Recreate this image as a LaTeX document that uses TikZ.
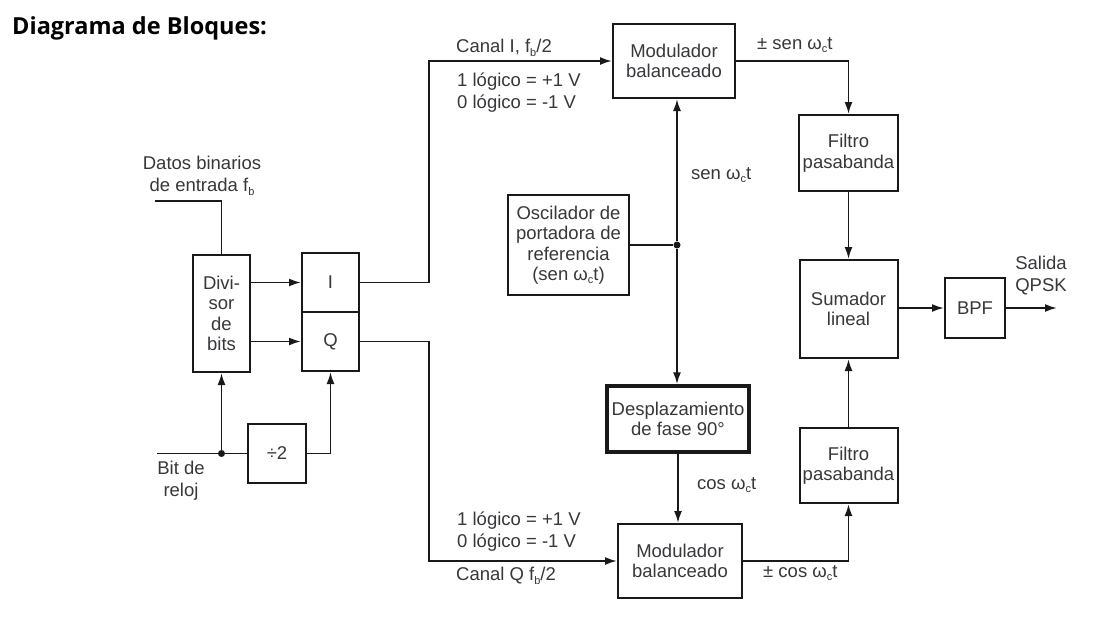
\documentclass[tikz,border=0pt]{standalone}
\usepackage{fontspec}
\setmainfont{Liberation Sans}
\newfontfamily\titlefont{Open Sans}
\usetikzlibrary{arrows.meta}

% small lowered index, e.g. omega_c, f_b
\newcommand{\dn}[1]{\raisebox{-0.35ex}{\fontsize{11}{11}\selectfont #1}}

\definecolor{ink}{RGB}{25,25,25}
\definecolor{txt}{RGB}{55,55,60}

\tikzset{
  blk/.style={draw=ink, line width=2pt, rectangle, align=center, text=txt,
              inner sep=0pt, font=\fontsize{18.5}{20.5}\selectfont},
  lbl/.style={text=txt, inner sep=0pt, font=\fontsize{18.5}{22}\selectfont},
  wire/.style={draw=ink, line width=1.9pt},
  arr/.style={wire, -{Latex[length=12pt,width=8pt]}},
  jdot/.style={fill=ink, circle, inner sep=0pt, minimum size=7pt}
}

\begin{document}
\begin{tikzpicture}[x=1pt,y=-1pt]
\useasboundingbox[fill=white] (0,0) rectangle (1101,622);

% title
\node[anchor=west, inner sep=0pt, text=black, font=\titlefont\bfseries\fontsize{23.5}{26}\selectfont]
  (title) at (12,28) {Diagrama de Bloques:};

% blocks
\node[blk, minimum width=57pt, minimum height=117pt] (div) at (221.5,313.5) {Divi-\\sor\\de\\bits};
\node[blk, minimum width=57pt, minimum height=59pt] (I) at (330.5,282.5) {I};
\node[blk, minimum width=57pt, minimum height=59pt] (Q) at (330.5,341.5) {Q};
\node[blk, minimum width=58pt, minimum height=59pt] (half) at (277,453.5) {÷2};
\node[blk, minimum width=122pt, minimum height=74pt] (modI) at (674,61) {Modulador\\balanceado};
\node[blk, minimum width=121pt, minimum height=100pt] (osc) at (568.5,245)
  {Oscilador de\\portadora de\\referencia\\(sen ω\dn{c}t)};
\node[blk, line width=3.4pt, minimum width=142pt, minimum height=66pt] (phase) at (678,419)
  {Desplazamiento\\de fase 90°};
\node[blk, minimum width=124pt, minimum height=74pt] (modQ) at (680,561) {Modulador\\balanceado};
\node[blk, minimum width=99pt, minimum height=76pt] (filtA) at (848.5,153) {Filtro\\pasabanda};
\node[blk, minimum width=98pt, minimum height=98pt] (sum) at (848.5,309) {Sumador\\lineal};
\node[blk, minimum width=98pt, minimum height=75pt] (filtB) at (848.5,465.5) {Filtro\\pasabanda};
\node[blk, minimum width=60pt, minimum height=60pt] (bpf) at (975,308) {BPF};

% free ends and junctions
\coordinate (din) at (155,201);
\coordinate (clk) at (157,453.5);
\coordinate (out) at (1057,308);
\node[jdot] (cj) at (div.south |- half.west) {};
\node[jdot] (oj) at (677,245) {};

% data input and bit split
\draw[wire] (din) -| (div.north);
\draw[arr] (div.east |- I) -- (I.west);
\draw[arr] (div.east |- Q) -- (Q.west);

% clock
\draw[wire] (clk) -- (half.west);
\draw[arr] (cj) -- (div.south);
\draw[arr] (half.east) -| (Q.south);

% I and Q channels
\draw[arr] (I.east) -- ++(69,0) |- (modI.west);
\draw[arr] (Q.east) -- ++(69,0) |- (modQ.west);

% carrier
\draw[wire] (osc.east |- oj) -- (oj);
\draw[arr] (oj) -- (oj |- modI.south);
\draw[arr] (oj) -- (oj |- phase.north);
\draw[arr] (phase.south) -- (phase.south |- modQ.north);

% outputs to the summer
\draw[arr] (modI.east) -| (filtA.north);
\draw[arr] (filtA.south) -- (sum.north);
\draw[arr] (modQ.east) -| (filtB.south);
\draw[arr] (filtB.north) -- (sum.south);
\draw[arr] (sum.east |- bpf) -- (bpf.west);
\draw[arr] (bpf.east) -- (out);

% labels
\node[lbl, align=center] (tdin) at (202,176) {Datos binarios\\de entrada f\dn{b}};
\node[lbl, align=center] (tclk) at (181,481) {Bit de\\reloj};
\node[lbl, anchor=west] (tci) at (456,48) {Canal I, f\dn{b}/2};
\node[lbl, anchor=west] (tli1) at (457,82) {1 lógico = +1 V};
\node[lbl, anchor=west] (tli0) at (457,104) {0 lógico = -1 V};
\node[lbl, anchor=west] (tlq1) at (457,521) {1 lógico = +1 V};
\node[lbl, anchor=west] (tlq0) at (457,543) {0 lógico = -1 V};
\node[lbl, anchor=west] (tcq) at (456,576) {Canal Q f\dn{b}/2};
\node[lbl, anchor=west] (tsI) at (757,45) {± sen ω\dn{c}t};
\node[lbl, anchor=west] (tsen) at (691,175) {sen ω\dn{c}t};
\node[lbl, anchor=west] (tcos) at (697,485) {cos ω\dn{c}t};
\node[lbl, anchor=west] (tcQ) at (763,573) {± cos ω\dn{c}t};
\node[lbl, align=center] (tout) at (1041,276) {Salida\\QPSK};
\end{tikzpicture}
\end{document}
